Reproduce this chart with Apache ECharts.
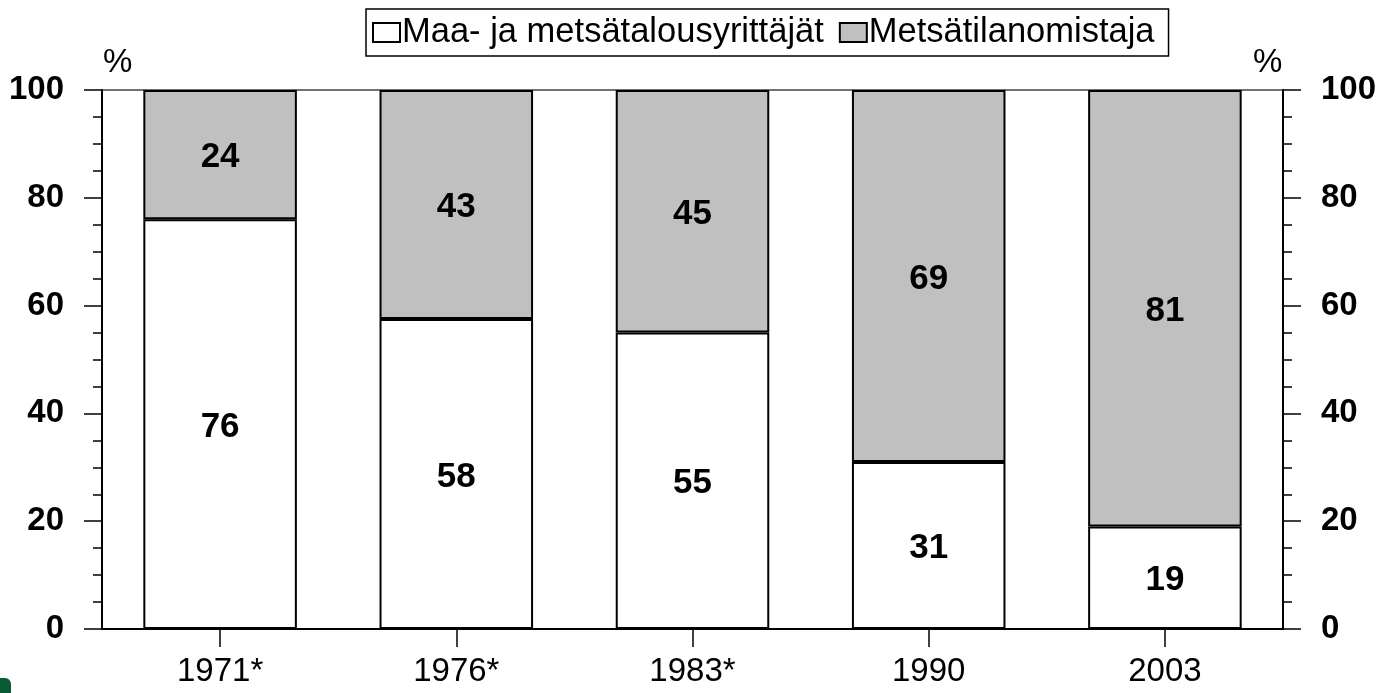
<!DOCTYPE html>
<html>
<head>
<meta charset="utf-8">
<script src="https://cdn.jsdelivr.net/npm/echarts@6/dist/echarts.min.js"></script>
<style>html,body{margin:0;padding:0;background:#fff}#c{width:1392px;height:693px}</style>
</head>
<body>
<div id="c"></div>
<script>
var categories = ['1971*', '1976*', '1983*', '1990', '2003'];
var seriesNames = ['Maa- ja metsätalousyrittäjät', 'Metsätilanomistaja'];
var farmers = [76, 57.5, 55, 31, 19];
var forestOwners = [24, 42.5, 45, 69, 81];
var yTicks = [0, 20, 40, 60, 80, 100];

var FONT = "'Liberation Sans', Arial, sans-serif";
var chart = echarts.init(document.getElementById('c'), null, {renderer: 'canvas'});

function yAxisCfg(pos) {
  return {
    type: 'value', position: pos, min: yTicks[0], max: yTicks[yTicks.length - 1], interval: 20,
    axisLine: {show: true, lineStyle: {color: '#000', width: 2}},
    axisTick: {show: true, inside: false, length: 18, lineStyle: {color: '#000', width: 1.5}},
    minorTick: {show: true, splitNumber: 4, length: 9, lineStyle: {color: '#000', width: 1.5}},
    splitLine: {show: false},
    axisLabel: {margin: 38, color: '#000', fontFamily: FONT, fontWeight: 'bold', fontSize: 33}
  };
}

var labelCfg = {
  show: true, position: 'inside', offset: [0, 3], color: '#000', fontFamily: FONT, fontWeight: 'bold', fontSize: 35,
  formatter: function (p) { return Math.round(p.value); }
};

chart.setOption({
  animation: false,
  backgroundColor: '#fff',
  grid: {left: 102, right: 109, top: 90, bottom: 64, show: true, borderColor: '#444', borderWidth: 1.5, backgroundColor: 'transparent'},
  legend: {
    left: 366, top: 9, data: seriesNames,
    borderColor: '#000', borderWidth: 1.5, padding: [6, 14, 6, 6],
    itemWidth: 27, itemHeight: 19, itemGap: 15,
    icon: 'rect',
    textStyle: {fontFamily: FONT, fontSize: 34.5, color: '#000', padding: [0, 0, 0, -3]}
  },
  xAxis: {
    type: 'category', data: categories,
    axisLine: {show: true, lineStyle: {color: '#000', width: 2}},
    axisTick: {show: true, alignWithLabel: true, length: 18, lineStyle: {color: '#000', width: 1.5}},
    axisLabel: {margin: 26, color: '#000', fontFamily: FONT, fontSize: 33}
  },
  yAxis: [yAxisCfg('left'), yAxisCfg('right')],
  graphic: [
    {type: 'text', left: 103, top: 46, style: {text: '%', font: '33px ' + FONT, fill: '#000'}},
    {type: 'text', left: 1253, top: 46, style: {text: '%', font: '33px ' + FONT, fill: '#000'}},
    {type: 'rect', shape: {x: -6, y: 678, width: 17, height: 24, r: 6}, style: {fill: '#0b5a36'}}
  ],
  series: [
    {
      name: seriesNames[0], type: 'bar', stack: 'total', data: farmers, barWidth: '65%',
      itemStyle: {color: '#fff', borderColor: '#000', borderWidth: 2},
      label: labelCfg
    },
    {
      name: seriesNames[1], type: 'bar', stack: 'total', data: forestOwners, barWidth: '65%',
      itemStyle: {color: '#c0c0c0', borderColor: '#000', borderWidth: 2},
      label: labelCfg
    }
  ]
});
</script>
</body>
</html>
